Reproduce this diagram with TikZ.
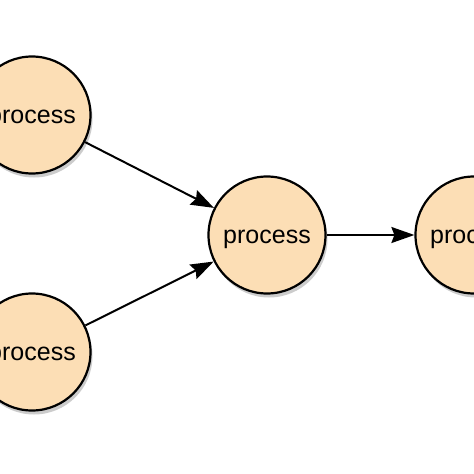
\documentclass[tikz,border=0pt]{standalone}
\usepackage{fontspec}
\setmainfont{Liberation Sans}
\usetikzlibrary{arrows.meta,shadows}
\definecolor{procfill}{RGB}{252,222,181}
\tikzset{
  proc/.style={circle, draw=black, line width=2.2pt, fill=procfill,
    minimum size=117pt, inner sep=0pt, font=\fontsize{25}{30}\selectfont,
    text height=21pt, text depth=4pt,
    drop shadow={shadow xshift=2pt, shadow yshift=-4pt, opacity=0.2, fill=black}},
  flow/.style={line width=2pt, -{Stealth[length=23pt,width=16pt,inset=3pt]}}
}
\begin{document}
\begin{tikzpicture}[x=1pt,y=-1pt]
\useasboundingbox (0,0) rectangle (474,474);
\fill[white] (0,0) rectangle (474,474);
\clip (0,0) rectangle (474,474);
\node[proc] (a) at (32,115) {process};
\node[proc] (b) at (32,352) {process};
\node[proc] (c) at (267,235) {process};
\node[proc] (d) at (474,235) {process};
\draw[flow] (a) -- (c);
\draw[flow] (b) -- (c);
\draw[flow] (c) -- (d);
\end{tikzpicture}
\end{document}
